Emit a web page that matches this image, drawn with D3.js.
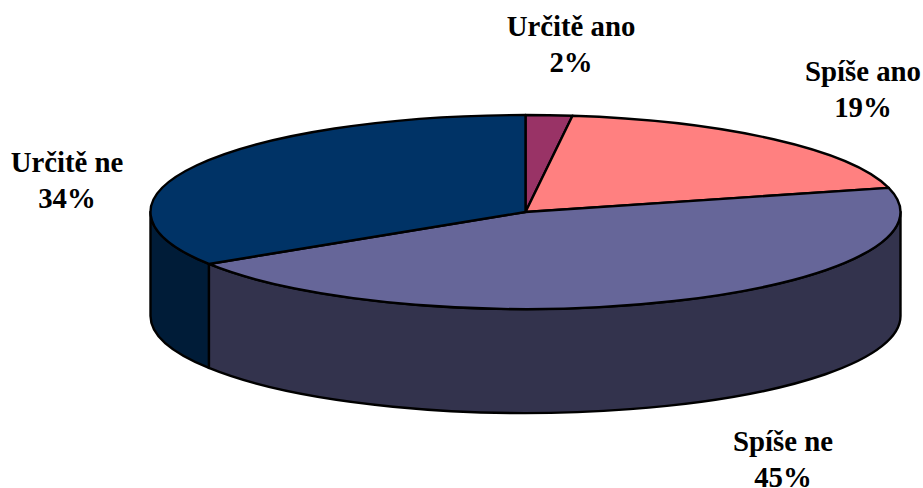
<!DOCTYPE html>
<html>
<head>
<meta charset="utf-8">
<script src="https://cdn.jsdelivr.net/npm/d3@7"></script>
<style>
body { margin: 0; background: #fff; }
svg { display: block; }
text { font-family: "Liberation Serif", serif; font-weight: bold; font-size: 28.8px; fill: #000; }
</style>
</head>
<body>
<script>
// data
var categories = ["Určitě ano", "Spíše ano", "Spíše ne", "Určitě ne"];
var values = [2, 19, 45, 34];
var topColors = ["#993366", "#ff8080", "#666699", "#003366"];
var sideColors = ["#4d1a33", "#804040", "#33334d", "#001c38"];
var labelX = [571, 863, 783, 67];
var labelY = [36, 81, 451, 172];

var w = 923;
var h = 488;

// pie geometry
var cx = 525.5;
var cy = 212;
var rx = 375;
var ry = 97;
var depth = 104;

var svg = d3.select("body").append("svg")
    .attr("width", w)
    .attr("height", h);

var pie = d3.pie().sort(null)(values);

var arc = d3.arc()
    .innerRadius(0)
    .outerRadius(rx);

// point on the rim of the ellipse, angle clockwise from the top
function rim(a, dy) {
    return [cx + rx * Math.sin(a), cy - ry * Math.cos(a) + dy];
}

// side wall of a slice, only the front half can be seen
function wall(d) {
    var a0 = Math.max(d.startAngle, Math.PI / 2);
    var a1 = Math.min(d.endAngle, Math.PI * 1.5);
    if (a1 <= a0) return null;
    var p0 = rim(a0, 0), p1 = rim(a1, 0), q1 = rim(a1, depth), q0 = rim(a0, depth);
    return "M" + p0 + "A" + rx + "," + ry + " 0 0 1 " + p1 +
        "L" + q1 + "A" + rx + "," + ry + " 0 0 0 " + q0 + "Z";
}

// side walls
svg.selectAll("path.wall")
    .data(pie.filter(function (d) { return wall(d); }))
    .enter()
    .append("path")
    .attr("class", "wall")
    .attr("d", wall)
    .attr("fill", function (d) { return sideColors[d.index]; })
    .attr("stroke", "#000")
    .attr("stroke-width", 2.4)
    .attr("stroke-linejoin", "round");

// top of the pie
svg.selectAll("path.slice")
    .data(pie)
    .enter()
    .append("path")
    .attr("class", "slice")
    .attr("d", arc)
    .attr("transform", "translate(" + cx + "," + cy + ") scale(1," + (ry / rx) + ")")
    .attr("vector-effect", "non-scaling-stroke")
    .attr("fill", function (d) { return topColors[d.index]; })
    .attr("stroke", "#000")
    .attr("stroke-width", 2.4)
    .attr("stroke-linejoin", "round");

// labels, name and percent on two lines
var labels = svg.selectAll("g.label")
    .data(categories)
    .enter()
    .append("g")
    .attr("class", "label")
    .attr("text-anchor", "middle");

labels.append("text")
    .attr("x", function (d, i) { return labelX[i]; })
    .attr("y", function (d, i) { return labelY[i]; })
    .text(function (d) { return d; });

labels.append("text")
    .attr("x", function (d, i) { return labelX[i]; })
    .attr("y", function (d, i) { return labelY[i] + 36; })
    .text(function (d, i) { return values[i] + "%"; });
</script>
</body>
</html>
